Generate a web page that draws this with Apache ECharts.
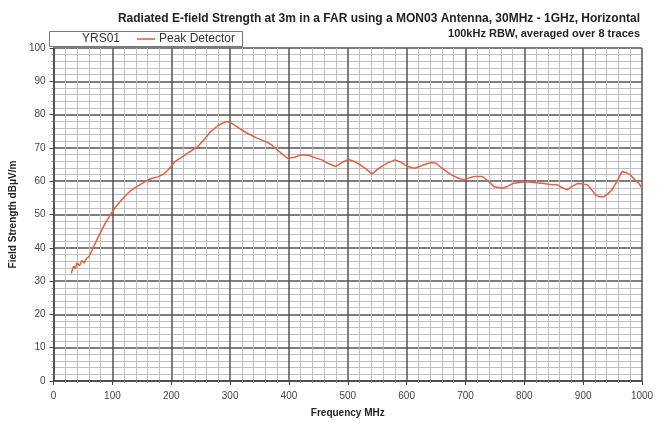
<!DOCTYPE html>
<html><head><meta charset="utf-8">
<script src="https://cdn.jsdelivr.net/npm/echarts@6/dist/echarts.min.js"></script>
<style>html,body{margin:0;padding:0;background:#fff}#c{width:657px;height:423px}</style>
</head><body><div id="c"></div>
<script>
const freqMHz = [30,34,37,40,44,48,52,56,60,66,76,88,98,106,115,124,132,144,155,166,177,186,194,200,206,216,228,236,245,256,267,280,293,300,307,318,329,345,360,370,377,387,397,410,420,434,445,456,467,479,490,501,510,518,530,541,550,557,568,580,590,597,606,614,630,642,650,662,676,688,698,706,715,729,740,749,763,772,780,792,805,820,833,845,856,865,873,882,890,900,907,914,921,928,935,942,949,956,966,973,980,988,995,1000];
const peakDetector = [32.3,34.5,33.8,35.5,34.6,36.2,35.4,36.8,37.3,39.5,43.3,47.5,50.3,52.4,54.3,56.0,57.3,58.7,59.8,60.8,61.3,62.0,63.3,64.5,65.9,67.0,68.4,69.3,70.4,72.5,74.9,76.8,77.9,77.6,76.9,75.6,74.4,73.0,71.9,71.0,69.9,68.4,66.9,67.2,67.9,67.8,67.0,66.4,65.3,64.4,65.6,66.5,66.0,65.3,63.8,62.2,63.5,64.4,65.5,66.4,65.7,64.9,64.2,63.9,65.0,65.6,65.4,63.6,61.9,60.9,60.4,61.0,61.4,61.4,59.8,58.3,57.9,58.5,59.3,59.6,59.8,59.5,59.3,59.0,58.9,58.0,57.4,58.5,59.3,59.2,58.9,57.5,55.9,55.3,55.3,56.2,57.4,59.5,62.9,62.6,61.9,60.4,59.3,57.9];
const xTicks = [0,100,200,300,400,500,600,700,800,900,1000];
const yTicks = [0,10,20,30,40,50,60,70,80,90,100];

const chart = echarts.init(document.getElementById('c'), null, {renderer:'canvas'});
const data = freqMHz.map((f,i)=>[f, peakDetector[i]]);
const font = 'Arimo, "Liberation Sans", Arial, sans-serif';
const axisCommon = {
  axisLine:{show:true, lineStyle:{color:'#444', width:1.5}},
  axisTick:{show:true, length:4, lineStyle:{color:'#444'}},
  axisLabel:{fontSize:10, color:'#444', fontFamily:font, formatter:v=>String(v)},
  splitLine:{show:true, lineStyle:{color:'#555', width:1.5}},
  minorTick:{show:true, splitNumber:5, length:2, lineStyle:{color:'#888'}},
  minorSplitLine:{show:true, lineStyle:{color:'#c0c0c0', width:1}}
};
chart.setOption({
  animation:false,
  backgroundColor:'#fff',
  textStyle:{fontFamily:font},
  title:[
    {text:'Radiated E-field Strength at 3m in a FAR using a MON03 Antenna, 30MHz - 1GHz, Horizontal',
     right:17, top:13, padding:0, textStyle:{fontSize:12, fontWeight:'bold', color:'#222', fontFamily:font}},
    {text:'100kHz RBW, averaged over 8 traces',
     right:17, top:28, padding:0, textStyle:{fontSize:11, fontWeight:'bold', color:'#222', fontFamily:font}}
  ],
  grid:{left:50, right:15, top:48, bottom:42, containLabel:false},
  xAxis:Object.assign({type:'value', min:xTicks[0], max:xTicks[xTicks.length-1], interval:100,
    name:'Frequency MHz', nameLocation:'middle', nameGap:27,
    nameTextStyle:{fontSize:10, fontWeight:'bold', color:'#222', fontFamily:font}}, axisCommon,
    {axisLabel:Object.assign({}, axisCommon.axisLabel, {margin:10})}),
  yAxis:Object.assign({type:'value', min:yTicks[0], max:yTicks[yTicks.length-1], interval:10,
    name:'Field Strength dBμV/m', nameLocation:'middle', nameGap:35, nameRotate:90,
    nameTextStyle:{fontSize:10, fontWeight:'bold', color:'#222', fontFamily:font}}, axisCommon,
    {axisLabel:Object.assign({}, axisCommon.axisLabel, {margin:8})}),
  legend:{show:true, left:137, top:33, padding:0, itemWidth:18, itemHeight:2, itemGap:4,
    icon:'rect', textStyle:{fontSize:12, color:'#333', fontFamily:font, lineHeight:12, padding:[0,0,0,-1]},
    data:['Peak Detector'], z:20},
  graphic:[
    {type:'rect', z:15, shape:{x:49.5, y:31.5, width:193, height:15},
      style:{fill:'#fff', stroke:'#777', lineWidth:1}},
    {type:'text', z:16, left:82, top:33, style:{text:'YRS01', fontSize:12, fill:'#333', fontFamily:font}}
  ],
  series:[{name:'Peak Detector', type:'line', data:data, showSymbol:false, smooth:false,
    lineStyle:{color:'#e2603f', width:1.5}, itemStyle:{color:'#e8845f'}}]
});
</script></body></html>
